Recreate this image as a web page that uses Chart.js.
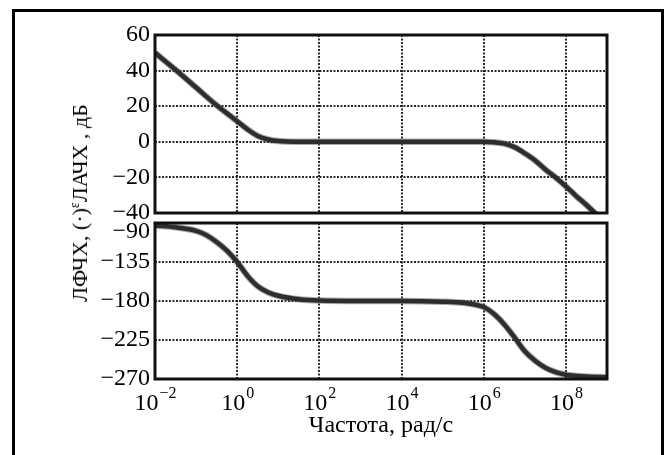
<!DOCTYPE html>
<html>
<head>
<meta charset="utf-8">
<script src="https://cdn.jsdelivr.net/npm/chart.js@4.4.1/dist/chart.umd.min.js"></script>
<style>
    html, body { margin: 0; padding: 0; background: #fff; }
    #wrap {
        position: relative; width: 668px; height: 455px; overflow: hidden;
        background: #fff; font-family: "Liberation Serif", "Times New Roman", serif;
    }
    #frame {
        position: absolute; left: 12px; top: 9px; width: 646px; height: 470px;
        border: 3px solid #000; border-bottom: none;
    }
    canvas { position: absolute; left: 0; }
    #magChart { top: 0; }
    #phaseChart { top: 215px; }
    #yTitle {
        position: absolute; left: 80px; top: 203px;
        transform: translate(-50%, -50%) rotate(-90deg);
        font-size: 22px; white-space: nowrap; color: #000; line-height: 1;
    }
    #yTitle sup { font-size: 14px; vertical-align: 8px; line-height: 0; }
</style>
</head>
<body>
<div id="wrap">
    <div id="frame"></div>
    <canvas id="magChart" width="668" height="220"></canvas>
    <canvas id="phaseChart" width="668" height="240"></canvas>
    <div id="yTitle">ЛФЧХ, (·)<sup>ε</sup>ЛАЧХ , дБ</div>
</div>
<script>
/* ---------- Data ---------- */
const magFreq = [1e-2, 3.16e-2, 1e-1, 3.16e-1, 5.62e-1, 1e0, 1.78e0, 3.16e0, 5.62e0, 1e1, 3.16e1, 1e2,
                 1e4, 1e6, 1.78e6, 3.16e6, 5.62e6, 1e7, 1.78e7, 3.16e7, 5.62e7, 1e8, 1.78e8, 3.16e8, 5.62e8];
const magDb = [50, 40.5, 30.5, 20.5, 16, 11.5, 7, 3.3, 1.3, 0.4, 0.05, 0,
               0, 0, -0.3, -1, -3, -6.5, -10.5, -15.5, -20, -25, -30.5, -35.5, -41];

const phaseFreq = [1e-2, 3.16e-2, 1e-1, 1.78e-1, 3.16e-1, 5.62e-1, 1e0, 1.78e0, 3.16e0, 5.62e0, 1e1, 3.16e1, 1e2,
                   1e3, 1e4, 1e5, 3.16e5, 5.62e5, 1e6, 1.78e6, 3.16e6, 5.62e6, 1e7, 1.78e7, 3.16e7, 5.62e7, 1e8, 3.16e8, 1e9];
const phaseDeg = [-93, -95, -99, -104, -112, -122, -135, -151, -163, -170, -174, -178, -179.5,
                  -180, -180, -180.8, -182, -183.8, -187, -195, -207, -222, -238, -249, -257, -262, -265, -267, -268];

const xTickValues = [1e-2, 1e0, 1e2, 1e4, 1e6, 1e8];
const xTickExps = ["−2", "0", "2", "4", "6", "8"];
const magTicks = [60, 40, 20, 0, -20, -40];
const phaseTicks = [-90, -135, -180, -225, -270];
const xTitle = "Частота, рад/с";

const FONT = '"Liberation Serif", "Times New Roman", serif';
const GRID = "rgba(20,20,20,0.9)";

function pts(xs, ys) {
    return xs.map((x, i) => ({ x, y: ys[i] }));
}

function minus(v) {
    return String(v).replace("-", "−");
}

/* ---------- Plugins ---------- */
const framePlugin = {
    id: "frame",
    afterDraw(chart) {
        const { ctx, chartArea: a } = chart;
        ctx.save();
        ctx.strokeStyle = "#111";
        ctx.lineWidth = 3;
        ctx.strokeRect(a.left, a.top, a.right - a.left, a.bottom - a.top);
        ctx.restore();
    }
};

const xLabelPlugin = {
    id: "xLabels",
    afterDraw(chart) {
        const { ctx, chartArea: a } = chart;
        const xs = chart.scales.x;
        const base = a.bottom + 31;
        ctx.save();
        ctx.fillStyle = "#000";
        ctx.textBaseline = "alphabetic";
        ctx.textAlign = "left";
        xTickValues.forEach((v, i) => {
            ctx.font = "24px " + FONT;
            const wBase = ctx.measureText("10").width;
            ctx.font = "16px " + FONT;
            const wExp = ctx.measureText(xTickExps[i]).width;
            const x0 = xs.getPixelForValue(v) - (wBase + wExp) / 2;
            ctx.font = "24px " + FONT;
            ctx.fillText("10", x0, base);
            ctx.font = "16px " + FONT;
            ctx.fillText(xTickExps[i], x0 + wBase + 1, base - 12);
        });
        ctx.font = "24px " + FONT;
        ctx.textAlign = "center";
        ctx.fillText(xTitle, (a.left + a.right) / 2, a.bottom + 53);
        ctx.restore();
    }
};

/* ---------- Scales ---------- */
function xScale(height) {
    return {
        type: "logarithmic",
        min: 1e-2,
        max: 1e9,
        afterBuildTicks: s => { s.ticks = xTickValues.map(v => ({ value: v })); },
        afterFit: s => { s.height = height; },
        ticks: { display: false },
        grid: { color: GRID, lineWidth: 2, drawTicks: false },
        border: { display: false, dash: [2, 1.5] }
    };
}

function yScale(min, max, tickList, labelFn, fontFn) {
    return {
        min,
        max,
        afterBuildTicks: s => { s.ticks = tickList.map(v => ({ value: v })); },
        afterFit: s => { s.width = 155; s.paddingTop = 0; s.paddingBottom = 0; },
        ticks: { color: "#000", padding: 5, font: fontFn, callback: labelFn },
        grid: { color: GRID, lineWidth: 2, drawTicks: false },
        border: { display: false, dash: [2, 1.5] }
    };
}

function curve(data, width, color) {
    return {
        data,
        borderColor: color,
        borderWidth: width,
        pointRadius: 0,
        cubicInterpolationMode: "monotone",
        fill: false,
        clip: 0
    };
}

function baseOptions(padding, scales) {
    return {
        responsive: false,
        animation: false,
        layout: { padding },
        plugins: { legend: { display: false }, tooltip: { enabled: false } },
        scales
    };
}

/* ---------- Charts ---------- */
const magPts = pts(magFreq, magDb);
new Chart(document.getElementById("magChart"), {
    type: "line",
    data: {
        datasets: [
            curve(magPts, 6.5, "rgba(90,90,90,0.5)"),
            curve(magPts, 4.5, "#000")
        ]
    },
    options: baseOptions(
        { left: 0, top: 35, right: 61, bottom: 7 },
        {
            x: xScale(0),
            y: yScale(-40, 60, magTicks, v => minus(v), () => ({ family: FONT, size: 24 }))
        }
    ),
    plugins: [framePlugin]
});

const phasePts = pts(phaseFreq, phaseDeg);
new Chart(document.getElementById("phaseChart"), {
    type: "line",
    data: {
        datasets: [
            curve(phasePts, 6.5, "rgba(90,90,90,0.5)"),
            curve(phasePts, 4.5, "#000")
        ]
    },
    options: baseOptions(
        { left: 0, top: 8, right: 61, bottom: 0 },
        {
            x: xScale(76),
            y: yScale(-270, -90, phaseTicks,
                v => (v === phaseTicks[0] ? ["", minus(v)] : minus(v)),
                c => ({ family: FONT, size: 24, lineHeight: c.tick && c.tick.value === phaseTicks[0] ? 0.75 : 1.2 }))
        }
    ),
    plugins: [framePlugin, xLabelPlugin]
});
</script>
</body>
</html>
